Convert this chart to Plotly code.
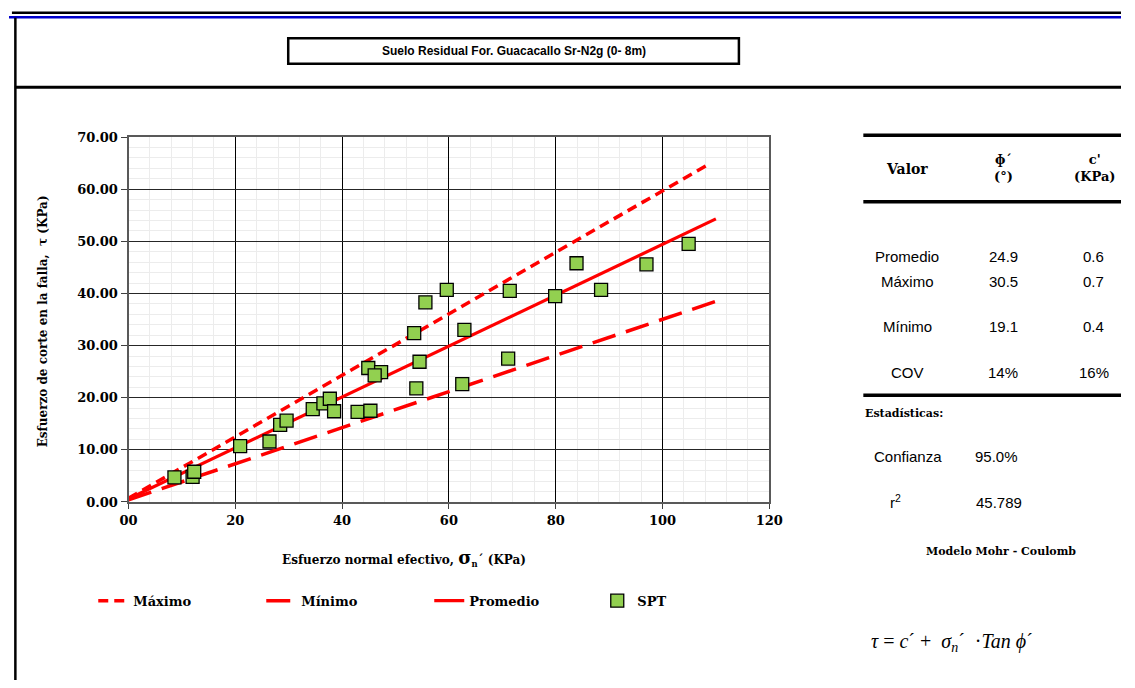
import plotly.graph_objects as go

# ---------------- data ----------------
spt_sigma = [8.6, 12.0, 12.3, 20.9, 26.4, 28.4, 29.6, 34.5, 36.5, 37.7, 38.5, 42.9, 45.3,
             44.9, 47.3, 46.1, 53.5, 54.5, 53.9, 55.6, 62.9, 62.5, 59.6, 71.4, 79.9, 83.9,
             88.5, 97.0, 104.9, 71.1]
spt_tau = [4.7, 4.8, 5.8, 10.7, 11.6, 14.8, 15.6, 17.8, 18.9, 19.8, 17.4, 17.3, 17.5,
           25.7, 24.9, 24.3, 32.4, 26.9, 21.8, 38.3, 33.0, 22.6, 40.7, 40.5, 39.5, 45.8,
           40.7, 45.6, 49.5, 27.5]

line_x_max = [0, 109]
line_y_max = [0.7, 65.0]
line_x_min = [0, 110]
line_y_min = [0.4, 38.5]
line_x_prom = [0, 110]
line_y_prom = [0.6, 54.3]

x_tickvals = [0, 20, 40, 60, 80, 100, 120]
x_ticktext = ["00", "20", "40", "60", "80", "100", "120"]

table_rows = ["Promedio", "Máximo", "Mínimo", "COV"]
table_phi = ["24.9", "30.5", "19.1", "14%"]
table_c = ["0.6", "0.7", "0.4", "16%"]

subtitle = "Suelo Residual For. Guacacallo Sr-N2g (0- 8m)"

# ---------------- layout helpers ----------------
W, H = 1135, 688
def px(x):
    return x / W
def py(y):
    return 1 - y / H

SERIF = "DejaVu Serif"
SANS = "Liberation Sans"
RED = "#FF0000"

fig = go.Figure()
fig.add_trace(go.Scatter(x=line_x_max, y=line_y_max, mode="lines", name="Máximo",
                         line=dict(color=RED, width=3.5, dash="10px,6px")))
fig.add_trace(go.Scatter(x=line_x_min, y=line_y_min, mode="lines", name="Mínimo",
                         line=dict(color=RED, width=3.5, dash="24px,11px")))
fig.add_trace(go.Scatter(x=line_x_prom, y=line_y_prom, mode="lines", name="Promedio",
                         line=dict(color=RED, width=3.2)))
fig.add_trace(go.Scatter(x=spt_sigma, y=spt_tau, mode="markers", name="SPT",
                         marker=dict(symbol="square", size=13, color="#92D050",
                                     line=dict(color="#000000", width=1.3))))

tickfont = dict(family=SERIF, size=13, color="#000000", weight="bold")
fig.update_xaxes(range=[0, 120], domain=[px(122), px(776)],
                 tickmode="array", tickvals=x_tickvals, ticktext=x_ticktext,
                 showgrid=True, gridcolor="#000000", gridwidth=1,
                 minor=dict(tickmode="linear", tick0=0, dtick=4, showgrid=True,
                            gridcolor="#ececec", gridwidth=1),
                 showline=True, linecolor="#595959", linewidth=2, mirror=True,
                 ticks="outside", ticklen=5, tickcolor="#404040",
                 tickfont=tickfont, zeroline=False, fixedrange=True)
fig.update_yaxes(range=[0, 70], domain=[py(506), py(133)],
                 tickmode="linear", tick0=0, dtick=10, tickformat=".2f",
                 showgrid=True, gridcolor="#262626", gridwidth=1,
                 minor=dict(tickmode="linear", tick0=0, dtick=2, showgrid=True,
                            gridcolor="#ececec", gridwidth=1),
                 showline=True, linecolor="#595959", linewidth=2, mirror=True,
                 ticks="outside", ticklen=6, tickcolor="#404040",
                 tickfont=tickfont, zeroline=False, fixedrange=True)

shapes = [
    # frame lines
    dict(type="line", xref="paper", yref="paper", x0=px(3), x1=1, y0=py(6), y1=py(6),
         line=dict(color="#000000", width=2.5)),
    dict(type="line", xref="paper", yref="paper", x0=0, x1=1, y0=py(10.5), y1=py(10.5),
         line=dict(color="#0000CC", width=2.5)),
    dict(type="line", xref="paper", yref="paper", x0=px(6.5), x1=px(6.5), y0=py(11), y1=0,
         line=dict(color="#000000", width=2.5)),
    dict(type="line", xref="paper", yref="paper", x0=px(6), x1=1, y0=py(82), y1=py(82),
         line=dict(color="#000000", width=3)),
    # subtitle box
    dict(type="rect", xref="paper", yref="paper", x0=px(285), x1=px(745), y0=py(58), y1=py(32),
         line=dict(color="#000000", width=2.5), fillcolor="rgba(0,0,0,0)"),
    # table rules
    dict(type="line", xref="paper", yref="paper", x0=px(872), x1=1, y0=py(131), y1=py(131),
         line=dict(color="#000000", width=3.5)),
    dict(type="line", xref="paper", yref="paper", x0=px(872), x1=1, y0=py(199), y1=py(199),
         line=dict(color="#000000", width=3.5)),
    dict(type="line", xref="paper", yref="paper", x0=px(872), x1=1, y0=py(397), y1=py(397),
         line=dict(color="#000000", width=3.5)),
]

def ann(x, y, text, family=SANS, size=15, xanchor="center", bold=False, angle=0):
    t = f"<b>{text}</b>" if bold else text
    return dict(x=px(x), y=py(y), xref="paper", yref="paper", text=t, showarrow=False,
                xanchor=xanchor, yanchor="middle", textangle=angle,
                font=dict(family=family, size=size, color="#000000"))

annotations = [
    ann(515, 45, subtitle, family=SANS, size=12, bold=True),
    ann(35, 321, "Esfuerzo de corte en la falla,  τ (KPa)", family=SERIF, size=12, bold=True, angle=-90),
    ann(403, 563, "Esfuerzo normal efectivo, <span style='font-size:18px'>σ</span><sub>n</sub>´ (KPa)",
        family=SERIF, size=12, bold=True),
    ann(917, 166, "Valor", family=SERIF, size=14, bold=True),
    ann(1015, 165, "ɸ´<br>(°)", family=SERIF, size=13, bold=True),
    ann(1108, 165, "c'<br>(KPa)", family=SERIF, size=13, bold=True),
    ann(872, 416, "Estadísticas:", family=SERIF, size=11, bold=True, xanchor="left"),
    ann(918, 460, "Confianza", size=15),
    ann(1008, 460, "95.0%", size=15),
    ann(905, 506, "r<sup>2</sup>", size=15),
    ann(1010, 507, "45.789", size=15),
    ann(1013, 557, "Modelo Mohr - Coulomb", family=SERIF, size=11, bold=True),
    ann(963, 650, "<i>τ</i> = <i>c</i>´ +  <i>σ</i><sub><i>n</i></sub>´  ·<i>Tan ϕ</i>´",
        family="Liberation Serif", size=20),
]
row_y = [255, 281, 327, 374]
for lbl, phi, c, yy in zip(table_rows, table_phi, table_c, row_y):
    annotations.append(ann(917, yy, lbl, size=15))
    annotations.append(ann(1015, yy, phi, size=15))
    annotations.append(ann(1107, yy, c, size=15))

fig.update_layout(
    width=W, height=H, autosize=False,
    margin=dict(l=0, r=0, t=0, b=0),
    paper_bgcolor="#FFFFFF", plot_bgcolor="#FFFFFF",
    shapes=shapes, annotations=annotations,
    showlegend=True,
    legend=dict(orientation="h", x=px(86), y=py(607), xanchor="left", yanchor="middle",
                entrywidth=123, entrywidthmode="pixels", traceorder="normal",
                font=dict(family=SERIF, size=13, color="#000000", weight="bold"),
                bgcolor="rgba(0,0,0,0)", itemclick=False, itemdoubleclick=False),
)

post_js = (
    "document.documentElement.style.margin='0px';"
    "document.documentElement.style.overflow='hidden';"
    "document.body.style.margin='0px';document.body.style.padding='0px';"
    "document.body.style.overflow='hidden';"
    "var gd=document.getElementById('{plot_id}');"
    "gd.style.position='fixed';gd.style.left='0px';gd.style.top='0px';"
)
fig.write_html("out.html", config={"displayModeBar": False}, post_script=post_js)
